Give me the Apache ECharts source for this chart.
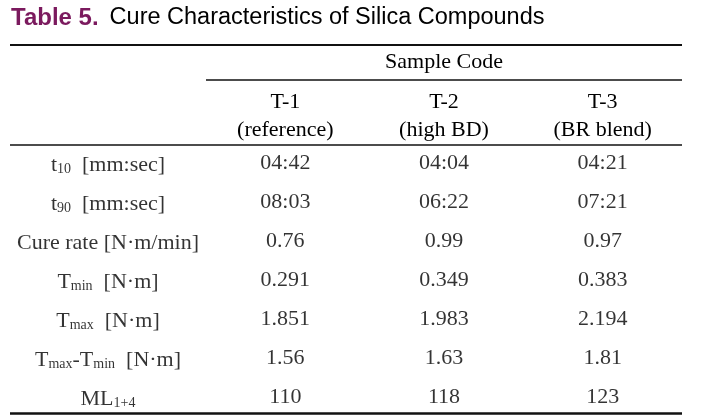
<!DOCTYPE html>
<html><head><meta charset="utf-8">
<script src="https://cdn.jsdelivr.net/npm/echarts/dist/echarts.min.js"></script>
<style>html,body{margin:0;padding:0;background:#fff}#c{width:701px;height:419px}</style>
</head><body><div id="c"></div>
<script>
// ---- data ----
const tableNumber = 'Table 5.';
const tableTitle = 'Cure Characteristics of Silica Compounds';
const groupHeader = 'Sample Code';
const columns = ['T-1', 'T-2', 'T-3'];
const columnNotes = ['(reference)', '(high BD)', '(BR blend)'];
const rowLabels = [
  '{m|t}{s|10}{m|  [mm:sec]}',
  '{m|t}{s|90}{m|  [mm:sec]}',
  '{m|Cure rate [N·m/min]}',
  '{m|T}{s|min}{m|  [N·m]}',
  '{m|T}{s|max}{m|  [N·m]}',
  '{m|T}{s|max}{m|-T}{s|min}{m|  [N·m]}',
  '{m|ML}{s|1+4}'
];
const t10 = ['04:42', '04:04', '04:21'];
const t90 = ['08:03', '06:22', '07:21'];
const cureRate = [0.76, 0.99, 0.97];
const torqueMin = [0.291, 0.349, 0.383];
const torqueMax = [1.851, 1.983, 2.194];
const torqueDelta = [1.56, 1.63, 1.81];
const mooney = [110, 118, 123];

const rows = [
  t10, t90,
  cureRate.map(v => v.toFixed(2)),
  torqueMin.map(v => v.toFixed(3)),
  torqueMax.map(v => v.toFixed(3)),
  torqueDelta.map(v => v.toFixed(2)),
  mooney.map(v => String(v))
];

// ---- chart ----
const SERIF = '"Liberation Serif", "DejaVu Serif", serif';
const SANS = '"Liberation Sans", Arial, sans-serif';
const INK = '#000';
const chart = echarts.init(document.getElementById('c'), null, {renderer: 'canvas'});

const rowIdx = rowLabels.map((_, i) => String(i));
const cellData = [];
rows.forEach((r, ri) => r.forEach((v, ci) => cellData.push([ci, ri, v])));

const baseLabel = {show: true, position: 'inside', color: INK, fontFamily: SERIF, fontSize: 22};

chart.setOption({
  animation: false,
  backgroundColor: '#fff',
  grid: [
    {left: 10, width: 196, top: 144, height: 273},
    {left: 206, width: 476, top: 144, height: 273}
  ],
  xAxis: [
    {gridIndex: 0, type: 'category', data: ['label'], show: false},
    {gridIndex: 1, type: 'category', data: columns, position: 'top',
     axisLine: {show: false}, axisTick: {show: false}, splitLine: {show: false},
     axisLabel: {interval: 0, margin: 0, color: INK, fontFamily: SERIF, fontSize: 22, lineHeight: 28,
       formatter: (v, i) => v + '\n' + columnNotes[i]}}
  ],
  yAxis: [
    {gridIndex: 0, type: 'category', data: rowIdx, inverse: true, show: false},
    {gridIndex: 1, type: 'category', data: rowIdx, inverse: true, show: false}
  ],
  series: [
    {type: 'scatter', xAxisIndex: 0, yAxisIndex: 0, symbolSize: 1,
     itemStyle: {color: 'rgba(0,0,0,0)'},
     data: rowLabels.map((_, i) => [0, i]),
     label: Object.assign({}, baseLabel, {
       formatter: p => rowLabels[p.dataIndex],
       rich: {
         m: {fontFamily: SERIF, fontSize: 22, color: INK, lineHeight: 26, verticalAlign: 'bottom'},
         s: {fontFamily: SERIF, fontSize: 14, color: INK, lineHeight: 23, verticalAlign: 'bottom'}
       }
     })},
    {type: 'scatter', xAxisIndex: 1, yAxisIndex: 1, symbolSize: 1,
     itemStyle: {color: 'rgba(0,0,0,0)'},
     data: cellData,
     label: Object.assign({}, baseLabel, {formatter: p => p.data[2]})}
  ],
  graphic: [
    {type: 'text', x: 11, y: 18,
     style: {text: '{b|' + tableNumber + '}{n|' + tableTitle + '}', verticalAlign: 'middle',
       rich: {
         b: {fontFamily: SANS, fontSize: 24, fontWeight: 'bold', fill: '#7B1A5E', padding: [0, 11, 0, 0]},
         n: {fontFamily: SANS, fontSize: 23.5, fill: '#000'}
       }}},
    {type: 'text', x: 444, y: 62,
     style: {text: groupHeader, fontFamily: SERIF, fontSize: 22, fill: INK, align: 'center', verticalAlign: 'middle'}},
    {type: 'line', shape: {x1: 10, y1: 45, x2: 682, y2: 45}, style: {stroke: '#111', lineWidth: 2}},
    {type: 'line', shape: {x1: 206, y1: 80, x2: 682, y2: 80}, style: {stroke: '#111', lineWidth: 1.5}},
    {type: 'line', shape: {x1: 10, y1: 145, x2: 682, y2: 145}, style: {stroke: '#111', lineWidth: 1.5}},
    {type: 'line', shape: {x1: 10, y1: 413.5, x2: 682, y2: 413.5}, style: {stroke: '#111', lineWidth: 2.5}}
  ]
});
</script></body></html>
